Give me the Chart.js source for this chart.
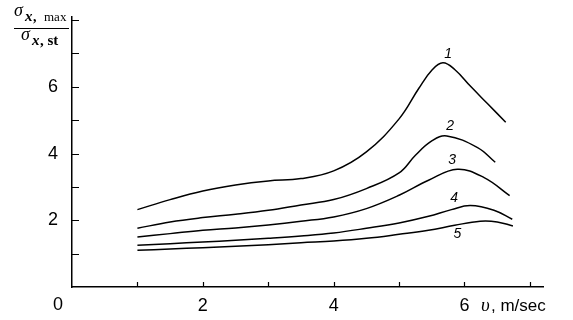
<!DOCTYPE html>
<html>
<head>
<meta charset="utf-8">
<script src="https://cdn.jsdelivr.net/npm/chart.js@4/dist/chart.umd.min.js"></script>
<style>
    html, body { margin: 0; padding: 0; background: #fff; }
    #wrap { width: 573px; height: 320px; position: relative; }
</style>
</head>
<body>
<div id="wrap"><canvas id="stressChart"></canvas></div>
<script>
// velocity v (m/sec) and stress ratio for curves 1..5
const curve1X = [1, 1.5, 2, 2.5, 3, 3.5, 4, 4.5, 5, 5.3, 5.5, 5.67, 5.85, 6.1, 6.35, 6.63];
const curve1Y = [2.32, 2.62, 2.88, 3.06, 3.18, 3.25, 3.48, 4.05, 5.04, 5.95, 6.5, 6.72, 6.52, 6.0, 5.5, 4.94];

const curve2X = [1, 1.5, 2, 2.5, 3, 3.5, 4, 4.5, 5, 5.25, 5.5, 5.73, 6.2, 6.47];
const curve2Y = [1.76, 1.95, 2.08, 2.18, 2.3, 2.46, 2.62, 2.95, 3.42, 3.95, 4.38, 4.53, 4.18, 3.74];

const curve3X = [1, 1.5, 2, 2.5, 3, 3.5, 4, 4.5, 5, 5.45, 5.89, 6.3, 6.69];
const curve3Y = [1.5, 1.6, 1.7, 1.77, 1.86, 1.97, 2.1, 2.35, 2.75, 3.2, 3.53, 3.28, 2.74];

const curve4X = [1, 1.5, 2, 2.5, 3, 3.5, 4, 4.5, 5, 5.45, 5.8, 6.09, 6.45, 6.73];
const curve4Y = [1.25, 1.3, 1.35, 1.4, 1.46, 1.53, 1.62, 1.76, 1.92, 2.12, 2.32, 2.44, 2.3, 2.03];

const curve5X = [1, 1.5, 2, 2.5, 3, 3.5, 4, 4.5, 5, 5.45, 5.85, 6.24, 6.5, 6.74];
const curve5Y = [1.1, 1.14, 1.18, 1.22, 1.27, 1.33, 1.38, 1.46, 1.58, 1.7, 1.85, 1.97, 1.95, 1.83];

const curveNames = ['1', '2', '3', '4', '5'];
// where the curve numbers sit, in data units
const nameX = [5.75, 5.78, 5.81, 5.84, 5.89];
const nameY = [6.97, 4.82, 3.79, 2.65, 1.59];

const xTickLabels = [2, 4, 6];
const yTickLabels = [2, 4, 6];

function toPoints(xs, ys) {
    return xs.map((x, i) => ({ x: x, y: ys[i] }));
}

function makeSet(xs, ys) {
    return {
        data: toPoints(xs, ys),
        showLine: true,
        borderColor: '#000',
        borderWidth: 1.5,
        pointRadius: 0,
        tension: 0.4,
        fill: false
    };
}

// inward tick marks, curve numbers, the "0", axis titles
const decorations = {
    id: 'decorations',
    afterDraw(chart) {
        const ctx = chart.ctx;
        const xs = chart.scales.x;
        const ys = chart.scales.y;
        const area = chart.chartArea;

        ctx.save();
        ctx.strokeStyle = '#000';
        ctx.lineWidth = 1.2;
        ctx.beginPath();
        xs.ticks.forEach(t => {
            if (t.value <= 0) return;
            const px = Math.round(xs.getPixelForValue(t.value)) + 0.5;
            ctx.moveTo(px, area.bottom);
            ctx.lineTo(px, area.bottom - 5);
        });
        ys.ticks.forEach(t => {
            if (t.value <= 0) return;
            const py = Math.round(ys.getPixelForValue(t.value)) + 0.5;
            ctx.moveTo(area.left, py);
            ctx.lineTo(area.left + 7, py);
        });
        ctx.stroke();

        ctx.fillStyle = '#000';
        ctx.font = 'italic 14px "Liberation Sans", Arial, sans-serif';
        ctx.textAlign = 'center';
        ctx.textBaseline = 'middle';
        curveNames.forEach((n, i) => {
            ctx.fillText(n, xs.getPixelForValue(nameX[i]), ys.getPixelForValue(nameY[i]));
        });

        ctx.font = '18px "Liberation Sans", Arial, sans-serif';
        ctx.fillText('0', area.left - 14, area.bottom + 18);

        // x title: v, m/sec
        ctx.textAlign = 'left';
        ctx.textBaseline = 'alphabetic';
        ctx.font = 'italic 19px "Liberation Serif", "DejaVu Serif", serif';
        ctx.fillText('\u03C5', 481, 311);
        ctx.font = '17px "Liberation Sans", Arial, sans-serif';
        ctx.fillText(', m/sec', 491, 311);

        // y title: sigma_x,max over sigma_x,st
        ctx.font = 'italic 18px "Liberation Serif", "DejaVu Serif", serif';
        ctx.fillText('\u03C3', 14, 16);
        ctx.font = 'italic bold 15px "Liberation Serif", "DejaVu Serif", serif';
        ctx.fillText('x', 25, 21);
        ctx.font = 'bold 14px "Liberation Serif", "DejaVu Serif", serif';
        ctx.fillText(',', 33, 21);
        ctx.font = '13px "Liberation Serif", "DejaVu Serif", serif';
        ctx.fillText('max', 44, 21);

        ctx.lineWidth = 1.2;
        ctx.beginPath();
        ctx.moveTo(14, 28.5);
        ctx.lineTo(69, 28.5);
        ctx.stroke();

        ctx.font = 'italic 18px "Liberation Serif", "DejaVu Serif", serif';
        ctx.fillText('\u03C3', 21, 40);
        ctx.font = 'italic bold 15px "Liberation Serif", "DejaVu Serif", serif';
        ctx.fillText('x', 32, 45);
        ctx.font = 'bold 15px "Liberation Serif", "DejaVu Serif", serif';
        ctx.fillText(', st', 40, 45);
        ctx.restore();
    }
};

document.addEventListener('DOMContentLoaded', () => {
    new Chart(document.getElementById('stressChart').getContext('2d'), {
        type: 'scatter',
        data: {
            datasets: [
                makeSet(curve1X, curve1Y),
                makeSet(curve2X, curve2Y),
                makeSet(curve3X, curve3Y),
                makeSet(curve4X, curve4Y),
                makeSet(curve5X, curve5Y)
            ]
        },
        options: {
            responsive: true,
            maintainAspectRatio: false,
            animation: false,
            layout: { padding: { left: 0, right: 30, top: 12, bottom: 0 } },
            plugins: {
                legend: { display: false },
                tooltip: { enabled: false }
            },
            scales: {
                x: {
                    type: 'linear',
                    min: 0,
                    max: 7.2,
                    afterFit: s => { s.height = 33; },
                    border: { display: true, color: '#000', width: 1.5 },
                    grid: { display: false },
                    ticks: {
                        stepSize: 1,
                        includeBounds: false,
                        maxRotation: 0,
                        autoSkip: false,
                        padding: 0,
                        color: '#000',
                        font: { family: '"Liberation Sans", Arial, sans-serif', size: 18 },
                        callback: v => xTickLabels.includes(v) ? String(v) : ''
                    }
                },
                y: {
                    type: 'linear',
                    min: 0,
                    max: 8.1,
                    afterFit: s => { s.width = 72; },
                    border: { display: true, color: '#000', width: 1.5 },
                    grid: { display: false },
                    ticks: {
                        stepSize: 1,
                        includeBounds: false,
                        autoSkip: false,
                        padding: 6,
                        color: '#000',
                        font: { family: '"Liberation Sans", Arial, sans-serif', size: 18 },
                        callback: v => yTickLabels.includes(v) ? String(v) : ''
                    }
                }
            }
        },
        plugins: [decorations]
    });
});
</script>
</body>
</html>
